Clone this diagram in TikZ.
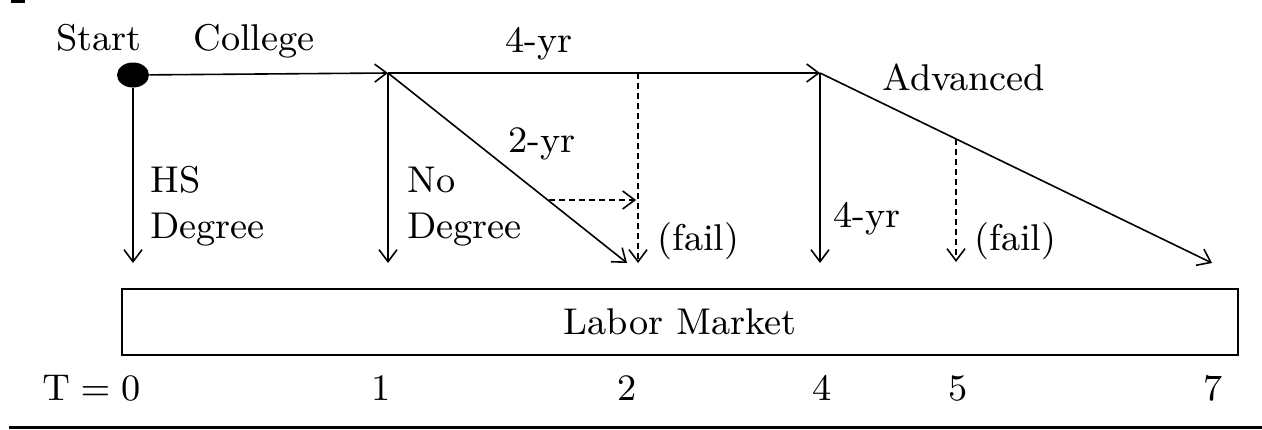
\documentclass[tikz,border=0pt]{standalone}
\usepackage{graphicx}
\usetikzlibrary{arrows.meta,shapes.geometric}
\newcommand\tx[1]{\scalebox{2.07}{\fontsize{9}{11}\selectfont #1}}
\tikzset{
  conn/.style={line width=0.8pt, -{Straight Barb[length=6pt,width=9pt]}},
  dconn/.style={conn, dash pattern=on 3pt off 2pt},
  lbl/.style={inner sep=0pt, anchor=base west},
  num/.style={inner sep=0pt, anchor=base},
  dot/.style={ellipse, fill=black, inner sep=0pt, minimum width=16pt, minimum height=12.5pt},
  market/.style={draw, line width=0.8pt, minimum width=558pt, minimum height=33pt, inner sep=0pt},
}
\begin{document}
\begin{tikzpicture}[x=0.5pt,y=-0.5pt]
\useasboundingbox (0,0) rectangle (1262,429);
\fill (11,0) rectangle (25,2.5);
\fill (9,425.5) rectangle (1262,429);
% nodes
\node[dot] (start) at (133,75) {};
\coordinate (c1) at (388,73);
\coordinate (c4) at (820,73);
\coordinate (e0) at (133,263);
\coordinate (e1) at (388,263);
\coordinate (e2) at (627,263);
\coordinate (f2top) at (638,73);
\coordinate (f2) at (638,263);
\coordinate (s2) at (549,200);
\coordinate (s2e) at (636,200);
\coordinate (e4) at (820,263);
\coordinate (e7) at (1212,263);
\coordinate (f5top) at (956,139);
\coordinate (f5) at (956,262);
\node[market] (lm) at (680,322) {\tx{Labor Market}};
% connectors
\draw[conn] (start) -- (c1);
\draw[conn] (c1) -- (c4);
\draw[conn] (start) -- (e0);
\draw[conn] (c1) -- (e1);
\draw[conn] (c1) -- (e2);
\draw[dconn] (f2top) -- (f2);
\draw[dconn] (s2) -- (s2e);
\draw[conn] (c4) -- (e4);
\draw[conn] (c4) -- (e7);
\draw[dconn] (f5top) -- (f5);
% labels
\node[lbl] (lstart) at (56,50) {\tx{Start}};
\node[lbl] (lcol) at (193,50) {\tx{College}};
\node[lbl] (l4a) at (505,52) {\tx{4-yr}};
\node[lbl] (ladv) at (882,90) {\tx{Advanced}};
\node[lbl] (l2) at (508,152) {\tx{2-yr}};
\node[lbl] (lhs) at (150,192) {\tx{HS}};
\node[lbl] (lhsd) at (150,238) {\tx{Degree}};
\node[lbl] (lno) at (407,192) {\tx{No}};
\node[lbl] (lnod) at (407,238) {\tx{Degree}};
\node[lbl] (lf1) at (657,250) {\tx{(fail)}};
\node[lbl] (l4b) at (833,227) {\tx{4-yr}};
\node[lbl] (lf2) at (974,250) {\tx{(fail)}};
\node[lbl] (t0) at (42,400) {\tx{$\mathrm{T}=0$}};
\node[num] (t1) at (381,400) {\tx{1}};
\node[num] (t2) at (627,400) {\tx{2}};
\node[num] (t4) at (822,400) {\tx{4}};
\node[num] (t5) at (958,400) {\tx{5}};
\node[num] (t7) at (1213,400) {\tx{7}};
\end{tikzpicture}
\end{document}
